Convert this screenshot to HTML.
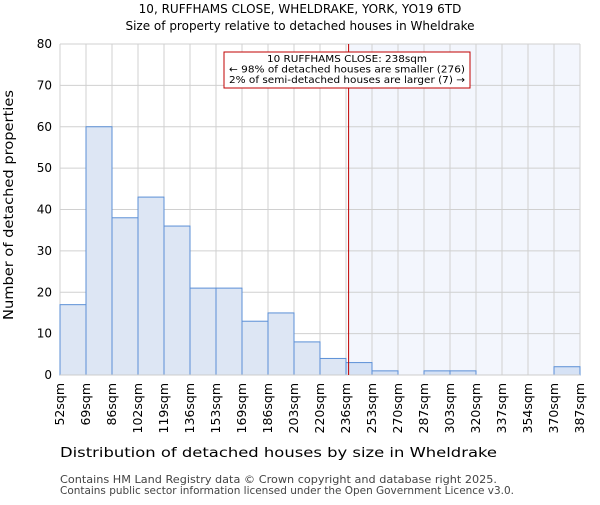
<!DOCTYPE html>
<html><head><meta charset="utf-8"><style>body{margin:0;background:#fff}svg{font-family:"DejaVu Sans","Liberation Sans",sans-serif}</style></head>
<body>
<svg width="600" height="500">
<text x="300" y="13" text-anchor="middle" font-size="12">10, RUFFHAMS CLOSE, WHELDRAKE, YORK, YO19 6TD</text>
<text x="300" y="30" text-anchor="middle" font-size="12">Size of property relative to detached houses in Wheldrake</text>
<g id="grid"></g><g id="bars"></g><g id="axes"></g>
<text x="60" y="457" font-size="13" textLength="437" lengthAdjust="spacingAndGlyphs">Distribution of detached houses by size in Wheldrake</text>
<text transform="translate(13,320) rotate(-90)" font-size="13" textLength="230" lengthAdjust="spacingAndGlyphs">Number of detached properties</text>
<text x="60" y="483" font-size="11" fill="#444" textLength="437" lengthAdjust="spacingAndGlyphs">Contains HM Land Registry data © Crown copyright and database right 2025.</text>
<text x="60" y="494" font-size="11" fill="#444" textLength="454" lengthAdjust="spacingAndGlyphs">Contains public sector information licensed under the Open Government Licence v3.0.</text>
</svg>
<script>
const categories=["52sqm","69sqm","86sqm","102sqm","119sqm","136sqm","153sqm","169sqm","186sqm","203sqm","220sqm","236sqm","253sqm","270sqm","287sqm","303sqm","320sqm","337sqm","354sqm","370sqm","387sqm"];
const counts=[17,60,38,43,36,21,21,13,15,8,4,3,1,0,1,1,0,0,0,2];
const yTicks=[0,10,20,30,40,50,60,70,80];
const propertyBin=11.1;
const NS="http://www.w3.org/2000/svg";
const X0=60,X1=580,Y0=375,Y1=44,n=counts.length,bw=(X1-X0)/n;
const xs=i=>X0+i*bw, ys=v=>Y0-(v/80)*(Y0-Y1);
function mk(t,a,p){const e=document.createElementNS(NS,t);for(const k in a)e.setAttribute(k,a[k]);p.appendChild(e);return e;}
const grid=document.getElementById('grid'),bars=document.getElementById('bars'),axes=document.getElementById('axes');
const px=xs(propertyBin);
const sh=mk('rect',{x:px,y:Y1,width:X1-px,height:Y0-Y1,fill:'#f3f6fd'},grid);


yTicks.forEach(t=>{const l=mk('line',{x1:X0,x2:X1,y1:ys(t),y2:ys(t),stroke:'#d0d0d0'},grid);


const tx=mk('text',{x:X0-8,y:ys(t)+4,'text-anchor':'end','font-size':12},axes);tx.textContent=t;

});
categories.forEach((c,i)=>{const l=mk('line',{x1:xs(i),x2:xs(i),y1:Y1,y2:Y0,stroke:'#d0d0d0'},grid);


const tx=mk('text',{transform:`translate(${xs(i)+4},${Y0+8}) rotate(-90)`,'text-anchor':'end','font-size':12.5},axes);tx.textContent=c;

});
counts.forEach((v,i)=>{if(v<=0)return;const r=mk('rect',{x:xs(i),y:ys(v),width:bw,height:Y0-ys(v),fill:i>=11?'#d6e2f5':'#dde6f4',stroke:'#5b8fd6','stroke-width':1},bars);

});
const ax=mk('line',{x1:X0,x2:X1,y1:Y0,y2:Y0,stroke:'#ccc'},axes);


const ml=mk('line',{x1:px,x2:px,y1:Y1,y2:Y0,stroke:'#c00000','stroke-width':1},axes);


const g=mk('g',{},axes);


mk('rect',{x:224,y:52,width:246,height:36,fill:'#fff',stroke:'#c00000'},g);
const ann=["10 RUFFHAMS CLOSE: 238sqm","← 98% of detached houses are smaller (276)","2% of semi-detached houses are larger (7) →"];
const annW=[160,236,236];
ann.forEach((s,k)=>{const t=mk('text',{x:347-annW[k]/2,y:62+k*10.5,'font-size':10,textLength:annW[k],lengthAdjust:'spacingAndGlyphs'},g);t.textContent=s;});
</script>
</body></html>
